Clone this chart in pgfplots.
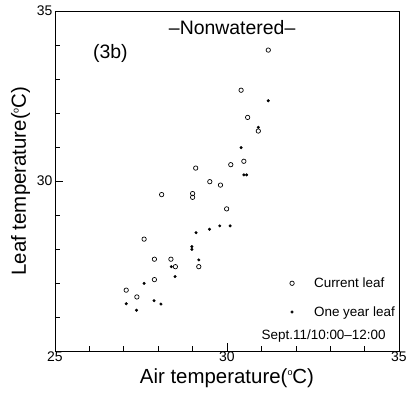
\documentclass[border=0pt]{standalone}
\usepackage{fontspec}
\setmainfont{Liberation Sans}
\usepackage{pgfplots}
\pgfplotsset{compat=1.18}
\begin{document}
\begin{tikzpicture}[x=1bp,y=1bp]
\path[use as bounding box] (-55,-44) rectangle (357,351);
\begin{axis}[
  at={(0,0)}, anchor=south west,
  scale only axis, width=344bp, height=340bp,
  xmin=25, xmax=35, ymin=25, ymax=35,
  xtick={25,30,35}, ytick={25,30,35},
  yticklabels={,30,35},
  minor xtick={26,27,28,29,31,32,33,34},
  minor ytick={26,27,28,29,31,32,33,34},
  tick pos=left, tick align=inside,
  major tick length=8bp, minor tick length=5bp,
  axis line style={line width=0.8pt}, tick style={line width=0.6pt, black},
  /pgf/number format/assume math mode=true,
  ticklabel style={font=\fontsize{14}{16}\selectfont},
  xticklabel style={yshift=3bp},
  yticklabel style={xshift=1bp},
  xlabel={Air temperature(\raisebox{0.35em}{\fontsize{9}{9}\selectfont o}C)},
  ylabel={Leaf temperature(\raisebox{0.35em}{\fontsize{9}{9}\selectfont o}C)},
  label style={font=\fontsize{20.5}{23}\selectfont},
  xlabel style={yshift=0bp},
  ylabel style={yshift=0bp},
  legend style={draw=none, fill=none, font=\fontsize{13.5}{16}\selectfont,
    at={(axis cs:31.45,27.28)}, anchor=north west, row sep=13.5bp},
  legend cell align=left,
  legend image code/.code={\path[draw=none, fill=none] (0bp,0bp) -- (32bp,0bp);
    \draw[#1, only marks] plot coordinates {(12bp,0bp)};},
]
\addplot[only marks, mark=o, mark size=2.2bp, line width=0.7pt, black] coordinates {
(31.20,33.85) (30.41,32.67) (30.60,31.87) (30.91,31.47) (29.09,30.38)
(30.11,30.48) (30.49,30.58) (29.50,29.98) (29.81,29.88) (28.10,29.60)
(29.00,29.63) (29.00,29.52) (29.99,29.18) (27.59,28.29) (27.89,27.70)
(28.37,27.70) (28.50,27.48) (29.18,27.48) (27.89,27.10) (27.07,26.79)
(27.38,26.59)
};
\addlegendentry{Current leaf}
\addplot[only marks, mark=*, mark size=1.3bp, black] coordinates {
(31.20,32.36) (30.91,31.58) (30.41,30.98) (30.49,30.18) (30.57,30.18)
(29.10,28.48) (29.49,28.58) (29.79,28.68) (30.09,28.68) (28.98,28.07)
(28.98,27.99) (28.38,27.48) (29.18,27.68) (28.49,27.19) (27.59,26.99)
(27.07,26.39) (27.88,26.48) (28.08,26.38) (27.37,26.20)
};
\addlegendentry{One year leaf}
\node[font=\fontsize{19.5}{21}\selectfont] at (axis cs:26.61,33.74) {(3b)};
\node[font=\fontsize{19.5}{21}\selectfont] at (axis cs:30.15,34.5) {--Nonwatered--};
\node[font=\fontsize{13.5}{16}\selectfont] at (axis cs:32.81,25.44) {Sept.11/10:00--12:00};
\end{axis}
\end{tikzpicture}
\end{document}
